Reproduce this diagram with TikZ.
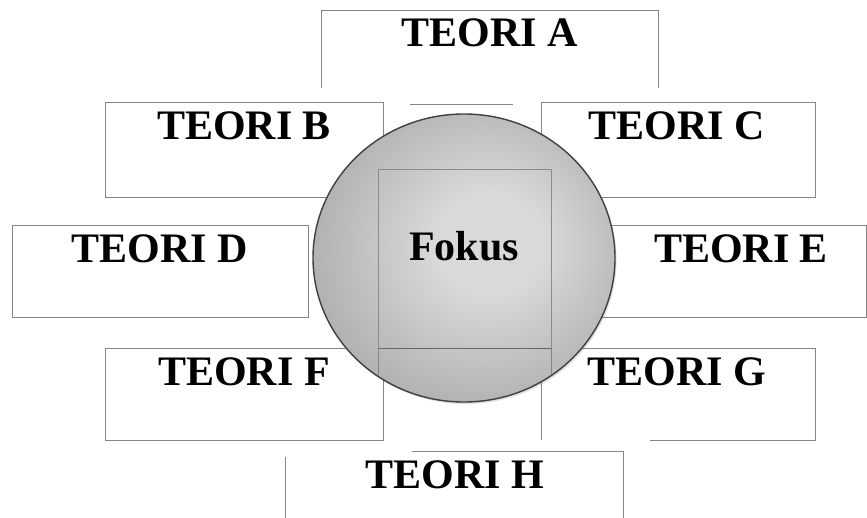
\documentclass[tikz,border=0pt]{standalone}
\usepackage{fontspec}
\setmainfont{Liberation Serif}
\usetikzlibrary{shapes.geometric, shadows}

\definecolor{fokusterang}{HTML}{DAD9D7}
\definecolor{fokussedang}{HTML}{B2B1AF}
\definecolor{fokusgelap}{HTML}{8D8C89}
\definecolor{fokustepi}{HTML}{6E6D6A}
\pgfdeclareradialshading{fokusbola}{\pgfpoint{5bp}{3bp}}{%
  color(0bp)=(fokusterang); color(9bp)=(fokusterang);
  color(28bp)=(fokussedang); color(42bp)=(fokusgelap); color(56bp)=(fokustepi)}

\begin{document}
\begin{tikzpicture}[x=1pt, y=-1pt,
  kotak/.style={rectangle, fill=white, inner sep=0pt, outer sep=0pt, anchor=north west},
  garis/.style={draw=black!48, line width=0.9pt},
  judul/.style={font=\bfseries\fontsize{42}{48}\selectfont, inner sep=0pt}]
  \useasboundingbox (0,0) rectangle (867,517);

  % 1. kotak teori A (tepi bawah sebagian tertutup)
  \node[kotak, minimum width=337pt, minimum height=94pt] (teoriA) at (321,10) {};
  \draw[garis] ([yshift=-78pt]teoriA.north west) -- (teoriA.north west)
    -- (teoriA.north east) -- ([yshift=-78pt]teoriA.north east);
  \draw[garis] ([xshift=89pt]teoriA.south west) -- ([xshift=192pt]teoriA.south west);

  % 2. kotak teori B, C
  \node[kotak, garis, minimum width=278pt, minimum height=95pt] (teoriB) at (105,102) {};
  \node[kotak, garis, minimum width=274pt, minimum height=95pt] (teoriC) at (541,102) {};

  % 3. kotak teori D, E
  \node[kotak, garis, minimum width=296pt, minimum height=92pt] (teoriD) at (12,225) {};
  \node[kotak, garis, minimum width=271pt, minimum height=92pt] (teoriE) at (595,225) {};

  % 4. kotak teori F, G
  \node[kotak, garis, minimum width=278pt, minimum height=92pt] (teoriF) at (105,348) {};
  \node[kotak, minimum width=274pt, minimum height=92pt] (teoriG) at (541,348) {};
  \draw[garis] (teoriG.south west) -- (teoriG.north west) -- (teoriG.north east)
    -- (teoriG.south east) -- ([xshift=-165pt]teoriG.south east);

  % 5. kotak teori H (keluar di bawah)
  \node[kotak, minimum width=338pt, minimum height=80pt] (teoriH) at (285,451) {};
  \draw[garis] ([xshift=127pt]teoriH.north west) -- (teoriH.north east) -- (teoriH.south east);
  \draw[garis] ([yshift=-6pt]teoriH.north west) -- (teoriH.south west);

  % 6. lingkaran fokus
  \node[ellipse, shade, shading=fokusbola, draw=black!75, line width=1.4pt,
    minimum width=302pt, minimum height=288pt, inner sep=0pt,
    drop shadow={opacity=0.25, shadow xshift=1.5pt, shadow yshift=-2pt}] (bola) at (464,258) {};
  \node[kotak, draw=black!45, line width=0.7pt, fill=none,
    minimum width=173pt, minimum height=179pt] (fokus) at (378,169) {};
  \draw[draw=black!60, line width=1pt] (fokus.south west) -- (fokus.south east);
  \begin{scope}
    \clip (bola.center) ellipse [x radius=150, y radius=143];
    \draw[garis, line width=0.7pt] (fokus.south west) -- ++(0,60)
      (fokus.south east) -- ++(0,60);
  \end{scope}

  % 7. judul
  \node[judul] (judulA) at (490,33) {TEORI A};
  \node[judul] (judulB) at (244,126) {TEORI B};
  \node[judul] (judulC) at (677,126) {TEORI C};
  \node[judul] (judulD) at (160,249) {TEORI D};
  \node[judul] (judulE) at (741,249) {TEORI E};
  \node[judul] (judulF) at (244,372) {TEORI F};
  \node[judul] (judulG) at (677,372) {TEORI G};
  \node[judul] (judulH) at (455,475) {TEORI H};
  \node[judul] (judulFokus) at (464,246) {Fokus};
\end{tikzpicture}
\end{document}
